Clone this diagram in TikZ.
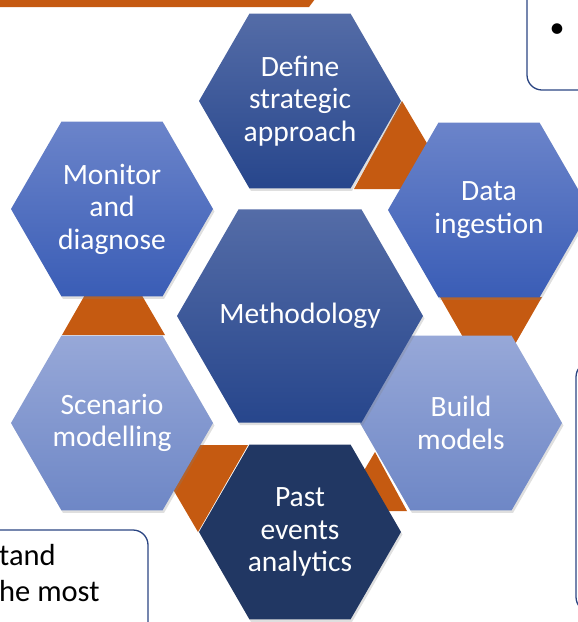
\documentclass[tikz,border=0pt]{standalone}
\usepackage{fontspec}
\setmainfont{Carlito}
\usetikzlibrary{shapes.geometric,shadows}
\definecolor{BurntOrange}{HTML}{C55A11}
\definecolor{FrameBlue}{HTML}{2B4582}
\definecolor{DeepTop}{HTML}{546CA7}
\definecolor{DeepBottom}{HTML}{27468C}
\definecolor{MidTop}{HTML}{6B84CA}
\definecolor{MidBottom}{HTML}{3A5DB6}
\definecolor{PaleTop}{HTML}{97A8D8}
\definecolor{PaleBottom}{HTML}{6E87C6}
\definecolor{NavyFill}{HTML}{213763}
\tikzset{
  hexa/.style={regular polygon, regular polygon sides=6,
    minimum size=202pt, inner sep=0pt, text=white, align=center,
    font=\fontsize{29.5}{32.5}\selectfont,
    drop shadow={opacity=0.25, shadow xshift=1.5pt, shadow yshift=-2.5pt}},
  deep/.style={top color=DeepTop, bottom color=DeepBottom},
  mid/.style={top color=MidTop, bottom color=MidBottom},
  pale/.style={top color=PaleTop, bottom color=PaleBottom},
  wedge/.style={fill=BurntOrange},
  frame/.style={draw=FrameBlue, line width=1.3pt, rounded corners=15pt},
  note/.style={anchor=base west, inner sep=0pt, font=\fontsize{30.5}{36}\selectfont}
}

\begin{document}
\begin{tikzpicture}[x=1pt, y=-1pt]
  \useasboundingbox (0,0) rectangle (578,622);
  \clip (0,0) rectangle (578,622);

  \fill[wedge] (0,-5) -- (318,-5) -- (309,7) -- (0,7) -- cycle;

  \draw[frame] (527,-30) -- (527,90) -- (620,90);
  \node (bullet) at (557,31) {\fontsize{30}{36}\selectfont •};
  \draw[frame] (-30,530) -- (148,530) -- (148,650);
  \node[note] (linea) at (-1,565) {tand};
  \node[note] (lineb) at (-1,601) {he most};
  \draw[frame] (620,362) -- (576,362) -- (576,612) -- (620,612);

  \fill[wedge] (402,101) -- (454,189) -- (354,189) -- cycle;
  \fill[wedge] (440,297) -- (542,297) -- (491,386) -- cycle;
  \fill[wedge] (375,452) -- (407,511) -- (340,511) -- cycle;
  \fill[wedge] (198,532) -- (248,445) -- (147,445) -- cycle;
  \fill[wedge] (62,335) -- (165,335) -- (113,246) -- cycle;

  \node[hexa, deep] (define) at (300,101) {Define\\strategic\\approach};
  \node[hexa, mid] (ingest) at (489,210) {Data\\ingestion};
  \node[hexa, pale] (build) at (461,423) {Build\\models};
  \node[hexa, fill=NavyFill] (past) at (300,532) {Past\\events\\analytics};
  \node[hexa, pale] (scenario) at (112,423) {Scenario\\modelling};
  \node[hexa, mid] (monitor) at (112,209) {Monitor\\and\\diagnose};
  \node[hexa, deep, minimum size=246pt] (method) at (300,316) {\makebox[0pt]{Methodology}};
\end{tikzpicture}
\end{document}
